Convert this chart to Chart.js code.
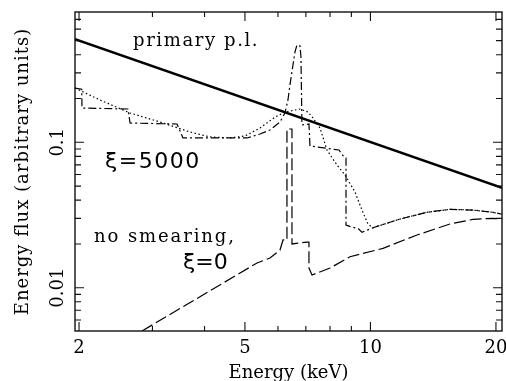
<!DOCTYPE html>
<html><head><meta charset="utf-8">
<script src="https://cdn.jsdelivr.net/npm/chart.js@4"></script>
<style>html,body{margin:0;padding:0;background:#fff}#wrap{width:506px;height:381px;position:relative}</style>
</head><body><div id="wrap"><canvas id="c" width="506" height="381"></canvas></div>
<script>
// axis ranges (keV, arbitrary energy flux)
const energyRange = [1.956, 20.68];
const fluxRange = [0.00504, 0.787];
const xTickLabels = [2, 5, 10, 20];
const yTickLabels = [0.01, 0.1];

// primary power law
const plEnergy = [1.956, 20.68];
const plFlux = [0.511, 0.0487];

// xi = 5000, unsmeared (dash-dot)
const ionEnergy = [1.956, 2.03, 2.033, 2.621, 2.651, 3.436, 3.551, 5.057, 5.434, 5.742, 6.068, 6.237, 6.341, 6.412, 6.519, 6.592, 6.664, 6.776, 6.813, 6.851, 7.121, 7.161, 8.404, 8.642, 8.738, 8.738, 9.032, 9.337, 9.543, 10.14, 11.78, 13.66, 15.51, 17.62, 19.68, 20.68];
const ionFlux = [0.236, 0.232, 0.172, 0.1694, 0.1357, 0.1336, 0.1071, 0.1071, 0.114, 0.1215, 0.1379, 0.159, 0.1954, 0.248, 0.34, 0.418, 0.467, 0.46, 0.386, 0.1315, 0.1336, 0.0943, 0.0885, 0.0792, 0.0781, 0.027, 0.0261, 0.0256, 0.02404, 0.02586, 0.02968, 0.033, 0.0346, 0.0342, 0.033, 0.032];

// xi = 5000, relativistically smeared (dotted)
const smearEnergy = [1.956, 2.246, 2.651, 3.128, 3.691, 4.123, 4.604, 5.002, 5.434, 5.902, 6.237, 6.776, 7.082, 7.281, 7.568, 7.866, 8.313, 8.69, 9.183, 9.543, 9.865, 10.14, 11.78, 13.66, 15.51, 17.62, 19.68, 20.68];
const smearFlux = [0.236, 0.1954, 0.159, 0.1379, 0.1177, 0.1088, 0.1071, 0.1105, 0.1254, 0.149, 0.1616, 0.1694, 0.1616, 0.147, 0.1254, 0.0885, 0.0698, 0.0596, 0.0455, 0.0342, 0.0274, 0.02586, 0.02968, 0.033, 0.0346, 0.0342, 0.033, 0.032];

// xi = 0, no smearing (dashed)
const neutEnergy = [2.832, 5.345, 5.742, 6.068, 6.17, 6.306, 6.306, 6.483, 6.483, 7.043, 7.121, 7.121, 7.241, 8.0, 8.933, 10.72, 12.93, 15.51, 17.62, 19.68, 20.68];
const neutFlux = [0.00504, 0.0148, 0.016, 0.01816, 0.0213, 0.0213, 0.1234, 0.1234, 0.02, 0.0206, 0.0206, 0.01366, 0.01224, 0.01366, 0.01633, 0.01866, 0.02304, 0.02742, 0.02954, 0.03001, 0.02968];

const pts = (xs, ys) => xs.map((v, i) => ({x: v, y: ys[i]}));

const frameTicks = {
  id: 'frameTicks',
  afterDraw(chart) {
    const {ctx, chartArea: a, scales: {x, y}} = chart;
    ctx.save();
    ctx.setLineDash([]);
    ctx.strokeStyle = '#111';
    ctx.lineWidth = 1.4;
    ctx.strokeRect(a.left, a.top, a.right - a.left, a.bottom - a.top);
    ctx.lineWidth = 1.1;
    ctx.beginPath();
    for (const dec of [1, 10]) {
      for (let m = 1; m <= 9; m++) {
        const v = m * dec;
        if (v < energyRange[0] || v > energyRange[1]) continue;
        const px = x.getPixelForValue(v);
        const len = xTickLabels.includes(v) ? 9 : 5;
        ctx.moveTo(px, a.bottom); ctx.lineTo(px, a.bottom - len);
        ctx.moveTo(px, a.top); ctx.lineTo(px, a.top + len);
      }
    }
    for (const dec of [0.001, 0.01, 0.1]) {
      for (let m = 1; m <= 9; m++) {
        const v = +(m * dec).toPrecision(3);
        if (v < fluxRange[0] || v > fluxRange[1]) continue;
        const py = y.getPixelForValue(v);
        const len = m === 1 ? 9 : 6;
        ctx.moveTo(a.left, py); ctx.lineTo(a.left + len, py);
        ctx.moveTo(a.right, py); ctx.lineTo(a.right - len, py);
      }
    }
    ctx.stroke();

    ctx.fillStyle = '#000';
    ctx.font = '18px "DejaVu Serif"';
    ctx.textAlign = 'center';
    ctx.textBaseline = 'alphabetic';
    for (const v of xTickLabels) {
      ctx.fillText(String(v), x.getPixelForValue(v), a.bottom + 22);
    }
    for (const v of yTickLabels) {
      ctx.save();
      ctx.translate(a.left - 12, y.getPixelForValue(v));
      ctx.rotate(-Math.PI / 2);
      ctx.fillText(String(v), 0, 0);
      ctx.restore();
    }
    // axis titles
    ctx.fillText('Energy (keV)', (a.left + a.right) / 2, 378);
    ctx.save();
    ctx.letterSpacing = '1px';
    ctx.translate(28, (a.top + a.bottom) / 2);
    ctx.rotate(-Math.PI / 2);
    ctx.fillText('Energy flux (arbitrary units)', 0, 0);
    ctx.restore();

    // annotations
    ctx.textAlign = 'left';
    ctx.font = '18px "DejaVu Serif"';
    ctx.letterSpacing = '1.6px';
    ctx.fillText('primary p.l.', x.getPixelForValue(2.695), y.getPixelForValue(0.4596));
    ctx.letterSpacing = '1.9px';
    ctx.fillText('no smearing,', x.getPixelForValue(2.173), y.getPixelForValue(0.0206));
    ctx.font = '22px "DejaVu Sans"';
    ctx.letterSpacing = '1.5px';
    ctx.fillText('ξ=5000', x.getPixelForValue(2.309), y.getPixelForValue(0.0666));
    ctx.letterSpacing = '0px';
    ctx.fillText('ξ=0', x.getPixelForValue(3.551), y.getPixelForValue(0.01345));
    ctx.restore();
  }
};

new Chart(document.getElementById('c'), {
  type: 'line',
  data: {
    datasets: [
      {label: 'no smearing, xi=0', data: pts(neutEnergy, neutFlux), borderColor: '#000', borderWidth: 1.2, borderDash: [12, 4]},
      {label: 'xi=5000 smeared', data: pts(smearEnergy, smearFlux), borderColor: '#000', borderWidth: 1.2, borderDash: [1.5, 2.5]},
      {label: 'xi=5000', data: pts(ionEnergy, ionFlux), borderColor: '#000', borderWidth: 1.2, borderDash: [8, 3, 2, 3]},
      {label: 'primary p.l.', data: pts(plEnergy, plFlux), borderColor: '#000', borderWidth: 2.5}
    ]
  },
  options: {
    responsive: false,
    animation: false,
    devicePixelRatio: 1,
    layout: {padding: {left: 75, top: 12, right: 4, bottom: 50}},
    plugins: {legend: {display: false}, tooltip: {enabled: false}},
    elements: {point: {radius: 0}, line: {tension: 0, fill: false}},
    scales: {
      x: {type: 'logarithmic', min: energyRange[0], max: energyRange[1], display: false},
      y: {type: 'logarithmic', min: fluxRange[0], max: fluxRange[1], display: false}
    }
  },
  plugins: [frameTicks]
});
</script>
</body></html>
